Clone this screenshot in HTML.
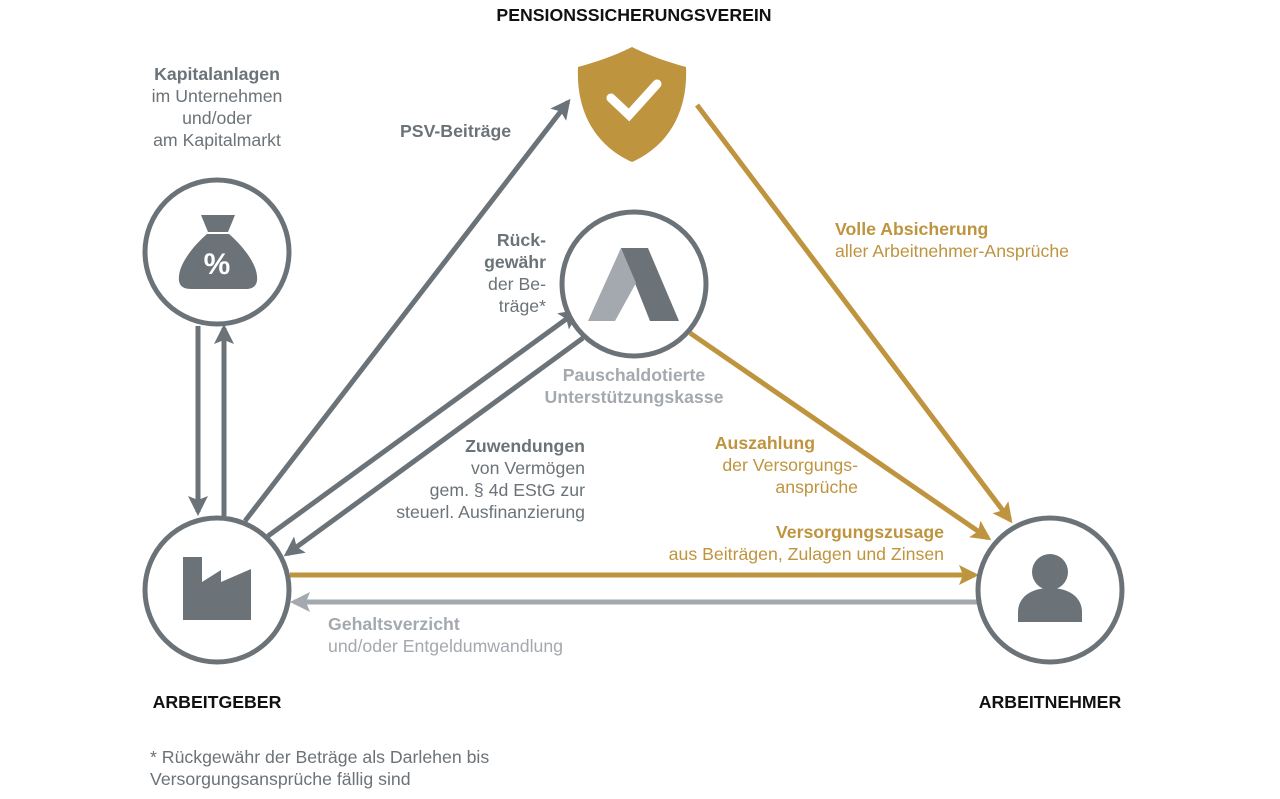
<!DOCTYPE html>
<html><head><meta charset="utf-8"><style>
html,body{margin:0;padding:0;background:#fff;}
svg{display:block;font-family:"Liberation Sans",Arial,sans-serif;}
.g{fill:#6b7378}.go{fill:#bf943f}.lg{fill:#a3a9ae}
text{font-size:17.7px}
.b{font-weight:bold}
</style></head><body>
<svg width="1280" height="799" viewBox="0 0 1280 799">
<defs>
<marker id="ag" viewBox="0 0 10 10" refX="8" refY="5" markerWidth="4" markerHeight="4" orient="auto"><path d="M0,0L10,5L0,10L2,5z" fill="#6b7378"/></marker>
<marker id="ao" viewBox="0 0 10 10" refX="8" refY="5" markerWidth="4" markerHeight="4" orient="auto"><path d="M0,0L10,5L0,10L2,5z" fill="#bf943f"/></marker>
<marker id="al" viewBox="0 0 10 10" refX="8" refY="5" markerWidth="4" markerHeight="4" orient="auto"><path d="M0,0L10,5L0,10L2,5z" fill="#a3a9ae"/></marker>
</defs>
<g stroke-width="5" fill="none">
<line x1="198" y1="326" x2="198" y2="512" stroke="#6b7378" marker-end="url(#ag)"/>
<line x1="224" y1="516" x2="224" y2="328" stroke="#6b7378" marker-end="url(#ag)"/>
<line x1="245" y1="521" x2="568" y2="102" stroke="#6b7378" marker-end="url(#ag)"/>
<line x1="268" y1="536" x2="576" y2="312" stroke="#6b7378" marker-end="url(#ag)"/>
<line x1="583" y1="338" x2="287" y2="554" stroke="#6b7378" marker-end="url(#ag)"/>
<line x1="697" y1="105" x2="1010" y2="520" stroke="#bf943f" marker-end="url(#ao)"/>
<line x1="690" y1="333" x2="988" y2="538" stroke="#bf943f" marker-end="url(#ao)"/>
<line x1="290" y1="575" x2="975" y2="575" stroke="#bf943f" marker-end="url(#ao)"/>
<line x1="977" y1="602" x2="294" y2="602" stroke="#a3a9ae" marker-end="url(#al)"/>
</g>
<g fill="#fff" stroke="#6b7378" stroke-width="5">
<circle cx="217" cy="252" r="72"/>
<circle cx="217" cy="590" r="72"/>
<circle cx="634" cy="284" r="72"/>
<circle cx="1050" cy="590" r="72"/>
</g>
<path d="M201,215H235L228,232H208Z" class="g"/>
<path d="M207,234H229C245,248 256,264 257,276C258,285 254,289 245,289H191C182,289 178,285 179,276C180,264 191,248 207,234Z" class="g"/>
<text x="217" y="274" text-anchor="middle" fill="#fff" style="font-size:30px;font-weight:bold">%</text>
<path d="M183,557H202V582L221,570V582L251,569V620H183Z" class="g"/>
<path d="M621,248H648L679,321H650Z" class="g"/>
<path d="M621,248L636,283L615,321H588Z" class="lg"/>
<path d="M632,47C650,56 668,62 686,67C688,110 670,145 632,162C594,145 576,110 578,67C596,62 614,56 632,47Z" class="go"/>
<path d="M611,98L629,115L657,84" stroke="#fff" stroke-width="9" fill="none" stroke-linecap="round"/>
<circle cx="1050" cy="572" r="18" class="g"/>
<path d="M1018,622V612C1018,598 1030,588 1050,588C1070,588 1082,598 1082,612V622Z" class="g"/>
<text x="634" y="21" text-anchor="middle" class="b" fill="#111">PENSIONSSICHERUNGSVEREIN</text>
<text x="217" y="708" text-anchor="middle" class="b" fill="#111">ARBEITGEBER</text>
<text x="1050" y="708" text-anchor="middle" class="b" fill="#111">ARBEITNEHMER</text>
<g text-anchor="middle" class="g">
<text x="217" y="80" class="b">Kapitalanlagen</text>
<text x="217" y="102">im Unternehmen</text>
<text x="217" y="124">und/oder</text>
<text x="217" y="146">am Kapitalmarkt</text>
</g>
<text x="400" y="137" class="g b">PSV-Beiträge</text>
<g text-anchor="end" class="g">
<text x="546" y="246" class="b">Rück-</text>
<text x="546" y="268" class="b">gewähr</text>
<text x="546" y="290">der Be-</text>
<text x="546" y="312">träge*</text>
<text x="585" y="452" class="b">Zuwendungen</text>
<text x="585" y="474">von Vermögen</text>
<text x="585" y="496">gem. § 4d EStG zur</text>
<text x="585" y="518">steuerl. Ausfinanzierung</text>
</g>
<g text-anchor="middle" class="lg">
<text x="634" y="381" class="b">Pauschaldotierte</text>
<text x="634" y="403" class="b">Unterstützungskasse</text>
</g>
<text x="835" y="235" class="go b">Volle Absicherung</text>
<text x="835" y="257" class="go">aller Arbeitnehmer-Ansprüche</text>
<g text-anchor="end" class="go">
<text x="815" y="449" class="b">Auszahlung</text>
<text x="858" y="471">der Versorgungs-</text>
<text x="858" y="493">ansprüche</text>
<text x="944" y="538" class="b">Versorgungszusage</text>
<text x="944" y="560">aus Beiträgen, Zulagen und Zinsen</text>
</g>
<text x="328" y="630" class="lg b">Gehaltsverzicht</text>
<text x="328" y="652" class="lg">und/oder Entgeldumwandlung</text>
<text x="150" y="763" class="g">* Rückgewähr der Beträge als Darlehen bis</text>
<text x="150" y="785" class="g">Versorgungsansprüche fällig sind</text>
</svg>
</body></html>
